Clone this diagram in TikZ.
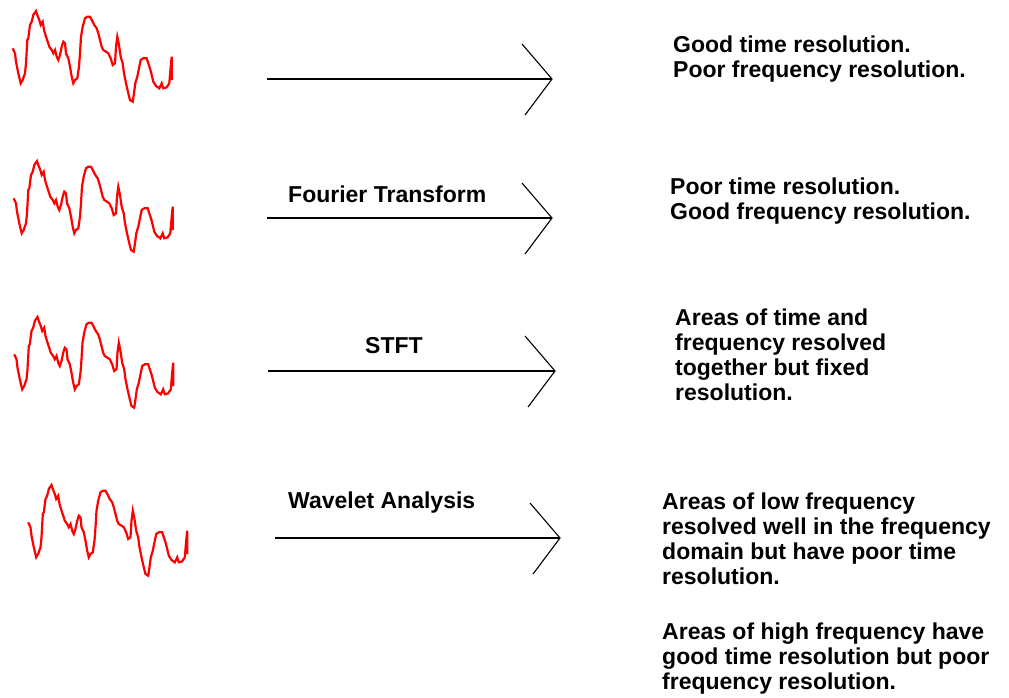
\documentclass[tikz,border=0pt]{standalone}
\usepackage{fontspec}
\setmainfont{Liberation Sans}
\begin{document}
\begin{tikzpicture}[x=1pt,y=-1pt,
  wave/.style={red, line width=2.2pt, line join=miter, line cap=butt},
  shaft/.style={black, line width=1.8pt},
  barb/.style={black, line width=1.1pt},
  label/.style={font=\fontsize{23}{25}\selectfont\bfseries, inner sep=0pt, anchor=base west},
  note/.style={font=\fontsize{23}{25}\selectfont\bfseries, inner sep=0pt, anchor=north west, align=left},
  signal/.pic={
    \coordinate (-o) at (0,0);
    \draw[wave] plot coordinates {
      (12.7,48.3) (15,53.3) (16,61.7) (18.3,73.3) (20.7,83.3) (22.7,80) (25,73.3)
      (26,63.3) (27.3,40) (28.3,38.3) (30,25) (31.7,21.7) (33.3,15) (36,11)
      (37.3,15) (39.3,20) (40.7,25) (42.7,21.7) (44,30) (46,36.7) (47.7,41.7)
      (49.3,46.7) (51.7,50) (53.3,53.3) (55,50) (56.7,56.7) (58.3,60) (60,55)
      (61.7,46.7) (63.3,41.7) (65,43.3) (66,53.3) (68.3,58.3) (70,66.7) (71.7,76.7)
      (73.3,83.3) (75,80) (77.3,78.3) (79,66.7) (80,53.3) (81,36.7) (82.7,26.7)
      (85,18.3) (87.3,16.7) (90,16.7) (92.7,21.7) (94.3,25) (96.7,28.3) (98.3,33.3)
      (100,40) (101.7,46.7) (103.3,50) (106,51.7) (108.3,53.3) (110.7,58.3)
      (112.7,65) (115,63.3) (116,46.7) (117.3,36.7) (118.7,43.3) (120.7,56.7)
      (122.7,63.3) (124,73.3) (126,83.3) (128.3,93.3) (130,100) (132.7,101.7)
      (134,93.3) (135.3,83.3) (137.3,76.7) (139.3,66.7) (140.7,60) (143.3,58.3)
      (146.7,58.3) (148.3,63.3) (150,68.3) (151.7,75) (153.3,81.7) (156,86)
      (159.3,88.3) (161.7,83.3) (163.3,88.3) (166.7,87.3) (169.3,83.3)
      (170.7,66.7) (171.7,56.7) (171.7,80)};
  }]
\useasboundingbox[fill=white] (0,0) rectangle (1009,697);

% input signals
\pic (w1) at (0,0) {signal};
\pic (w2) at (1,150) {signal};
\pic (w3) at (1.5,306) {signal};
\pic (w4) at (15.5,474) {signal};

% arrow end points
\coordinate (a1s) at (267,79);  \coordinate (a1e) at (552,79);
\coordinate (a2s) at (267,218); \coordinate (a2e) at (552,218);
\coordinate (a3s) at (268,371); \coordinate (a3e) at (555,371);
\coordinate (a4s) at (275,538); \coordinate (a4e) at (560,538);

\foreach \i in {1,2,3,4}{
  \draw[shaft] (a\i s) -- (a\i e);
  \draw[barb] ([shift={(-30,-35)}]a\i e) -- (a\i e) -- ([shift={(-27,36)}]a\i e);
}

% transform names
\node[label] (ft) at (288,202) {Fourier Transform};
\node[label] (stft) at (365,353) {STFT};
\node[label] (wa) at (288,508) {Wavelet Analysis};

% resulting resolutions
\node[note] (r1) at (673,36) {Good time resolution.\\Poor frequency resolution.};
\node[note] (r2) at (670,178) {Poor time resolution.\\Good frequency resolution.};
\node[note] (r3) at (675,309) {Areas of time and\\frequency resolved\\together but fixed\\resolution.};
\node[note] (r4) at (662,493) {Areas of low frequency\\resolved well in the frequency\\domain but have poor time\\resolution.\\[30pt]Areas of high frequency have\\good time resolution but poor\\frequency resolution.};
\end{tikzpicture}
\end{document}
